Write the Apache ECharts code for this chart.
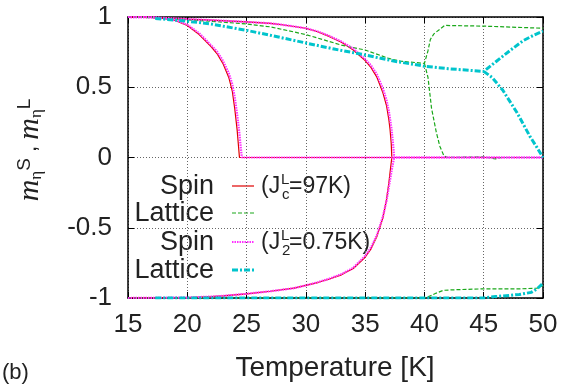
<!DOCTYPE html>
<html>
<head>
<meta charset="utf-8">
<script src="https://cdn.jsdelivr.net/npm/echarts@6/dist/echarts.min.js"></script>
<style>
html,body{margin:0;padding:0;background:#fff;}
#chart{width:577px;height:390px;}
</style>
</head>
<body>
<div id="chart"></div>
<script>
// ---- axis ranges / ticks ----
const xTicks = [15, 20, 25, 30, 35, 40, 45, 50];
const yTicks = [-1, -0.5, 0, 0.5, 1];

// ---- Spin, J^L_c = 97K (red) : [T, m] ----
const spinC_low = [[15,1],[17,0.998],[18,0.99],[19,0.975],[20,0.94],[21,0.875],[22,0.79],[22.5,0.74],[23,0.67],[23.5,0.57],[23.8,0.47],[24.0,0.35],[24.2,0.2],[24.3,0.1],[24.4,0],[50,0]];
const spinC_high = [[15,1],[17,0.998],[20,0.985],[22,0.978],[25,0.965],[27,0.955],[28,0.945],[30,0.92],[31,0.895],[32,0.86],[33,0.82],[34,0.765],[35,0.69],[35.5,0.64],[36,0.57],[36.5,0.46],[36.8,0.37],[37.0,0.27],[37.1,0.2],[37.2,0.1],[37.25,0],[50,0]];
const spinC_neg = [[15,-1],[20,-0.997],[22,-0.99],[23,-0.985],[25,-0.97],[27,-0.952],[29,-0.93],[30,-0.91],[31,-0.89],[32,-0.865],[33,-0.835],[34,-0.79],[35,-0.71],[35.5,-0.65],[36,-0.56],[36.5,-0.43],[36.8,-0.3],[37.0,-0.18],[37.15,-0.07],[37.25,0]];

// ---- Lattice, J^L_c = 97K (green) ----
const latC_up = [[15,1],[17,0.995],[20,0.98],[22,0.97],[25,0.95],[27,0.93],[30,0.875],[32,0.825],[33,0.8],[35,0.765],[37,0.705],[38,0.685],[40,0.67],[40.3,0.76],[40.5,0.84],[40.8,0.88],[41.7,0.94],[45,0.935],[50,0.92]];
const latC_drop = [[40,0.67],[40.3,0.57],[40.6,0.35],[41.0,0.18],[41.3,0.08],[41.65,0.01],[42,0],[45,0.005],[46,-0.01],[46.5,0],[50,0]];
const latC_neg = [[15,-1],[40,-1],[40.5,-0.985],[41,-0.965],[41.6,-0.945],[43,-0.94],[45,-0.935],[48,-0.935],[49.5,-0.93],[50,-0.91]];

// ---- Spin, J^L_2 = 0.75K (magenta) ----
const spin2_low = [[15,1],[17,0.998],[18,0.99],[19,0.977],[20,0.945],[21,0.885],[22,0.8],[22.5,0.755],[23,0.69],[23.5,0.6],[23.8,0.52],[24.0,0.43],[24.2,0.31],[24.4,0.17],[24.5,0.08],[24.6,0],[50,0]];
const spin2_high = [[15,1],[17,0.998],[20,0.985],[22,0.978],[25,0.965],[27,0.955],[28,0.945],[30,0.92],[31,0.897],[32,0.865],[33,0.825],[34,0.775],[35,0.70],[35.5,0.655],[36,0.59],[36.5,0.49],[36.8,0.41],[37.0,0.33],[37.2,0.22],[37.35,0.1],[37.45,0],[50,0]];
const spin2_neg = [[15,-1],[20,-0.997],[22,-0.99],[23,-0.985],[25,-0.97],[27,-0.952],[29,-0.93],[30,-0.91],[31,-0.888],[32,-0.862],[33,-0.83],[34,-0.785],[35,-0.70],[35.5,-0.64],[36,-0.55],[36.5,-0.42],[36.8,-0.31],[37.0,-0.21],[37.2,-0.11],[37.35,-0.04],[37.45,0]];

// ---- Lattice, J^L_2 = 0.75K (cyan) ----
const lat2_up = [[17.3,0.99],[20,0.97],[22,0.95],[25,0.905],[27,0.87],[30,0.815],[32.5,0.77],[35,0.73],[37.5,0.685],[40,0.65],[42,0.632],[45,0.613],[46,0.68],[47.2,0.76],[48.3,0.83],[49.2,0.87],[50,0.9]];
const lat2_drop = [[45,0.613],[45.7,0.57],[46.6,0.48],[47.8,0.32],[48.9,0.15],[49.5,0.07],[50,0]];
const lat2_neg = [[17.3,-1],[45,-1],[46,-0.99],[48,-0.975],[49,-0.96],[49.5,-0.935],[50,-0.895]];

const RED = '#e00000', GREEN = '#1aa81a', MAG = '#ff30ff', CYAN = '#00c4cc';
const FONT = 'Liberation Sans';

function seg(name, data, color, width, type) {
  return { name, type: 'line', data, showSymbol: false, symbol: 'none', smooth: false,
    silent: true, clip: true,
    lineStyle: { color, width, type } };
}

const series = [
  seg('Spin', spinC_low, RED, 1.2, 'solid'),
  seg('Spin', spinC_high, RED, 1.2, 'solid'),
  seg('Spin', spinC_neg, RED, 1.2, 'solid'),
  seg('Lattice', latC_up, GREEN, 1.2, [4, 2]),
  seg('Lattice', latC_drop, GREEN, 1.2, [4, 2]),
  seg('Lattice', latC_neg, GREEN, 1.2, [4, 2]),
  seg('Spin2', spin2_low, MAG, 2.2, [1.5, 1]),
  seg('Spin2', spin2_high, MAG, 2.2, [1.5, 1]),
  seg('Spin2', spin2_neg, MAG, 2.2, [1.5, 1]),
  seg('Lattice2', lat2_up, CYAN, 3, [6, 2, 2, 2]),
  seg('Lattice2', lat2_drop, CYAN, 3, [6, 2, 2, 2]),
  seg('Lattice2', lat2_neg, CYAN, 3, [6, 2, 2, 2])
];

const gridLine = { show: true, lineStyle: { color: '#666', type: [1, 2], width: 1 } };
const frameLine = { show: true, onZero: false, lineStyle: { color: '#000', width: 1.5 } };
const tick = { show: true, inside: true, length: 6, lineStyle: { color: '#000', width: 1 } };

const chart = echarts.init(document.getElementById('chart'), null, { renderer: 'canvas' });
chart.setOption({
  animation: false,
  backgroundColor: '#fff',
  grid: { left: 128, right: 34, top: 17, bottom: 92 },
  xAxis: [
    { type: 'value', min: xTicks[0], max: xTicks[xTicks.length - 1], interval: 5,
      axisLine: frameLine, axisTick: tick, splitLine: gridLine,
      axisLabel: { fontFamily: FONT, fontSize: 26, color: '#222', margin: 14 } },
    { type: 'value', position: 'top', min: xTicks[0], max: xTicks[xTicks.length - 1], interval: 5,
      axisLine: frameLine, axisTick: tick, splitLine: { show: false }, axisLabel: { show: false } }
  ],
  yAxis: [
    { type: 'value', min: yTicks[0], max: yTicks[yTicks.length - 1], interval: 0.5,
      axisLine: frameLine, axisTick: tick, splitLine: gridLine,
      axisLabel: { fontFamily: FONT, fontSize: 26, color: '#222', margin: 16 } },
    { type: 'value', position: 'right', min: yTicks[0], max: yTicks[yTicks.length - 1], interval: 0.5,
      axisLine: frameLine, axisTick: tick, splitLine: { show: false }, axisLabel: { show: false } }
  ],
  series,
  graphic: [
    // legend text
    { type: 'text', style: { text: 'Spin', x: 214, y: 187, align: 'right', verticalAlign: 'middle', fontFamily: FONT, fontSize: 27, fill: '#222' } },
    { type: 'text', style: { text: 'Lattice', x: 214, y: 214, align: 'right', verticalAlign: 'middle', fontFamily: FONT, fontSize: 27, fill: '#222' } },
    { type: 'text', style: { text: 'Spin', x: 214, y: 243, align: 'right', verticalAlign: 'middle', fontFamily: FONT, fontSize: 27, fill: '#222' } },
    { type: 'text', style: { text: 'Lattice', x: 214, y: 271, align: 'right', verticalAlign: 'middle', fontFamily: FONT, fontSize: 27, fill: '#222' } },
    // legend samples
    { type: 'line', shape: { x1: 232, y1: 186, x2: 254, y2: 186 }, style: { stroke: RED, lineWidth: 1.2 } },
    { type: 'line', shape: { x1: 232, y1: 213, x2: 254, y2: 213 }, style: { stroke: GREEN, lineWidth: 1.2, lineDash: [4, 2] } },
    { type: 'line', shape: { x1: 232, y1: 242, x2: 254, y2: 242 }, style: { stroke: MAG, lineWidth: 2.2, lineDash: [1.5, 1] } },
    { type: 'line', shape: { x1: 232, y1: 270, x2: 254, y2: 270 }, style: { stroke: CYAN, lineWidth: 3, lineDash: [6, 2, 2, 2] } },
    // annotations
    { type: 'text', style: { text: '(J', x: 261, y: 187, verticalAlign: 'middle', fontFamily: FONT, fontSize: 23, fill: '#222' } },
    { type: 'text', style: { text: 'L', x: 281, y: 180, verticalAlign: 'middle', fontFamily: FONT, fontSize: 15, fill: '#222' } },
    { type: 'text', style: { text: 'c', x: 282, y: 195, verticalAlign: 'middle', fontFamily: FONT, fontSize: 15, fill: '#222' } },
    { type: 'text', style: { text: '=97K)', x: 289, y: 187, verticalAlign: 'middle', fontFamily: FONT, fontSize: 23, fill: '#222' } },
    { type: 'text', style: { text: '(J', x: 261, y: 243, verticalAlign: 'middle', fontFamily: FONT, fontSize: 23, fill: '#222' } },
    { type: 'text', style: { text: 'L', x: 281, y: 236, verticalAlign: 'middle', fontFamily: FONT, fontSize: 15, fill: '#222' } },
    { type: 'text', style: { text: '2', x: 282, y: 251, verticalAlign: 'middle', fontFamily: FONT, fontSize: 15, fill: '#222' } },
    { type: 'text', style: { text: '=0.75K)', x: 289, y: 243, verticalAlign: 'middle', fontFamily: FONT, fontSize: 23, fill: '#222' } },
    // x axis title
    { type: 'text', style: { text: 'Temperature [K]', x: 335, y: 368, align: 'center', verticalAlign: 'middle', fontFamily: FONT, fontSize: 28, fill: '#222' } },
    // panel label
    { type: 'text', style: { text: '(b)', x: 2, y: 373, verticalAlign: 'middle', fontFamily: FONT, fontSize: 22, fill: '#222' } },
    // y axis title (rotated)
    { type: 'text', x: 30, y: 150, rotation: Math.PI / 2,
      style: { text: '{m|m}{sub|η}{sup|S}{c| , }{m|m}{sub|η}{sup|L}', align: 'center', verticalAlign: 'middle', fill: '#222',
        rich: {
          m: { fontFamily: 'Liberation Serif', fontStyle: 'italic', fontSize: 30, lineHeight: 30, verticalAlign: 'middle', fill: '#222' },
          sub: { fontFamily: 'Liberation Serif', fontSize: 17, lineHeight: 14, verticalAlign: 'bottom', fill: '#222' },
          sup: { fontFamily: FONT, fontSize: 19, lineHeight: 12, verticalAlign: 'top', fill: '#222' },
          c: { fontFamily: FONT, fontSize: 22, lineHeight: 30, verticalAlign: 'middle', fill: '#222' }
        } } }
  ]
});
</script>
</body>
</html>
